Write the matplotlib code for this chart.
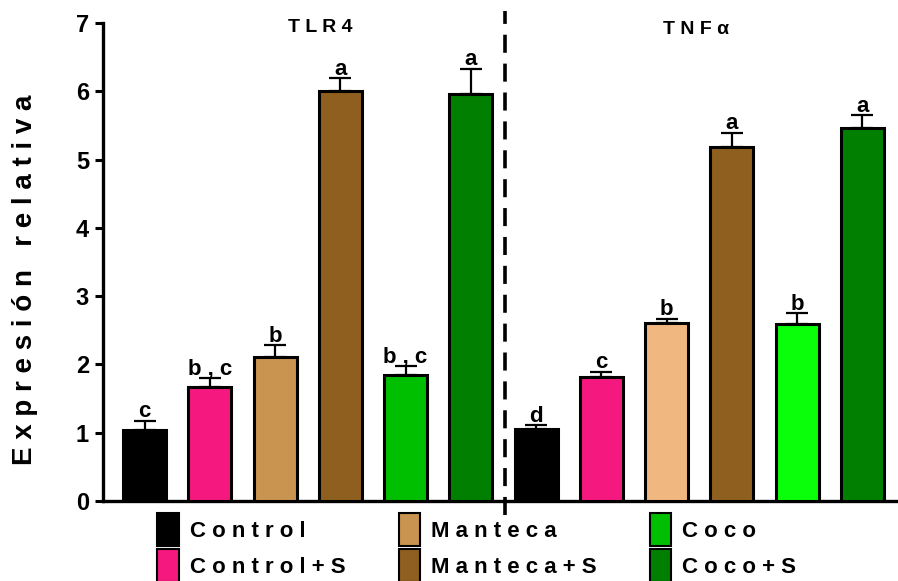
import numpy as np
import matplotlib
matplotlib.use("Agg")
import matplotlib.pyplot as plt
from matplotlib.patches import Patch

plt.rcParams['font.family'] = ['Liberation Sans', 'DejaVu Sans']
plt.rcParams['font.weight'] = 'bold'

# Data
groups = ["Control", "Control+S", "Manteca", "Manteca+S", "Coco", "Coco+S"]
tlr4_mean = [1.04, 1.67, 2.11, 6.00, 1.84, 5.96]
tlr4_err = [0.13, 0.13, 0.17, 0.19, 0.14, 0.37]
tlr4_sig = ["c", "b , c", "b", "a", "b , c", "a"]
tnf_mean = [1.05, 1.82, 2.61, 5.18, 2.59, 5.46]
tnf_err = [0.06, 0.07, 0.06, 0.21, 0.16, 0.19]
tnf_sig = ["d", "c", "b", "a", "b", "a"]

tlr4_colors = ["#000000", "#F5187E", "#C8944F", "#8E5F1F", "#00BE00", "#007F00"]
tnf_colors = ["#000000", "#F5187E", "#F0B880", "#8E5F1F", "#0AFF0A", "#007F00"]


def spaced(s):
    # wide letter spacing like the original graph
    return "   ".join(" ".join(w) for w in s.split(" "))


fig = plt.figure(figsize=(8.98, 5.81), dpi=100)
ax = fig.add_axes([0.1147, 0.1377, 0.8853, 0.8227])

x1 = np.arange(6)
x2 = np.arange(6) + 6
w = 0.66

for xs, means, errs, cols, sigs in [(x1, tlr4_mean, tlr4_err, tlr4_colors, tlr4_sig),
                                     (x2, tnf_mean, tnf_err, tnf_colors, tnf_sig)]:
    ax.bar(xs, means, width=w, color=cols, edgecolor="black", linewidth=2.2, zorder=3)
    ax.errorbar(xs, means, yerr=[np.zeros(6), errs], fmt="none", ecolor="black",
                elinewidth=1.6, capsize=8, capthick=1.6, zorder=2)
    for xi, m, e, s in zip(xs, means, errs, sigs):
        ax.annotate(s, (xi, m + e), xytext=(0, -1), textcoords="offset points",
                    ha="center", va="bottom", fontsize=16, fontweight="bold")

# separator between genes
ax.plot([5.52, 5.52], [-0.2, 7.18], color="black", lw=2.6, ls=(0, (5, 3)),
        clip_on=False, zorder=4)

ax.text(2.69, 6.94, spaced("TLR4"), ha="center", va="center", fontsize=14, fontweight="bold")
ax.text(8.45, 6.9, spaced("TNFα"), ha="center", va="center", fontsize=14, fontweight="bold")

ax.set_xlim(-0.636, 11.545)
ax.set_ylim(0, 7)
ax.set_yticks(range(8))
ax.set_xticks([])
ax.tick_params(axis="y", labelsize=17, width=2.2, length=6, pad=4)
for lab in ax.get_yticklabels():
    lab.set_fontweight("bold")
ax.spines["top"].set_visible(False)
ax.spines["right"].set_visible(False)
ax.spines["left"].set_linewidth(2.4)
ax.spines["bottom"].set_linewidth(2.4)
ax.set_ylabel(spaced("Expresión relativa"), fontsize=20, fontweight="bold")
ax.yaxis.set_label_coords(-0.082, 0.462)

handles = [Patch(facecolor=c, edgecolor="black", linewidth=1.5) for c in tlr4_colors]
fig.legend(handles, [spaced(g.replace("+", " + ")).replace("   +   ", " + ") for g in groups],
           ncol=3, loc="lower left", bbox_to_anchor=(0.158, -0.029), frameon=False,
           prop={"size": 16, "weight": "bold"}, handlelength=0.95, handleheight=1.9,
           handletextpad=0.5, columnspacing=2.4, labelspacing=0.15, borderpad=0.2)

fig.savefig("out.png", dpi=100)
